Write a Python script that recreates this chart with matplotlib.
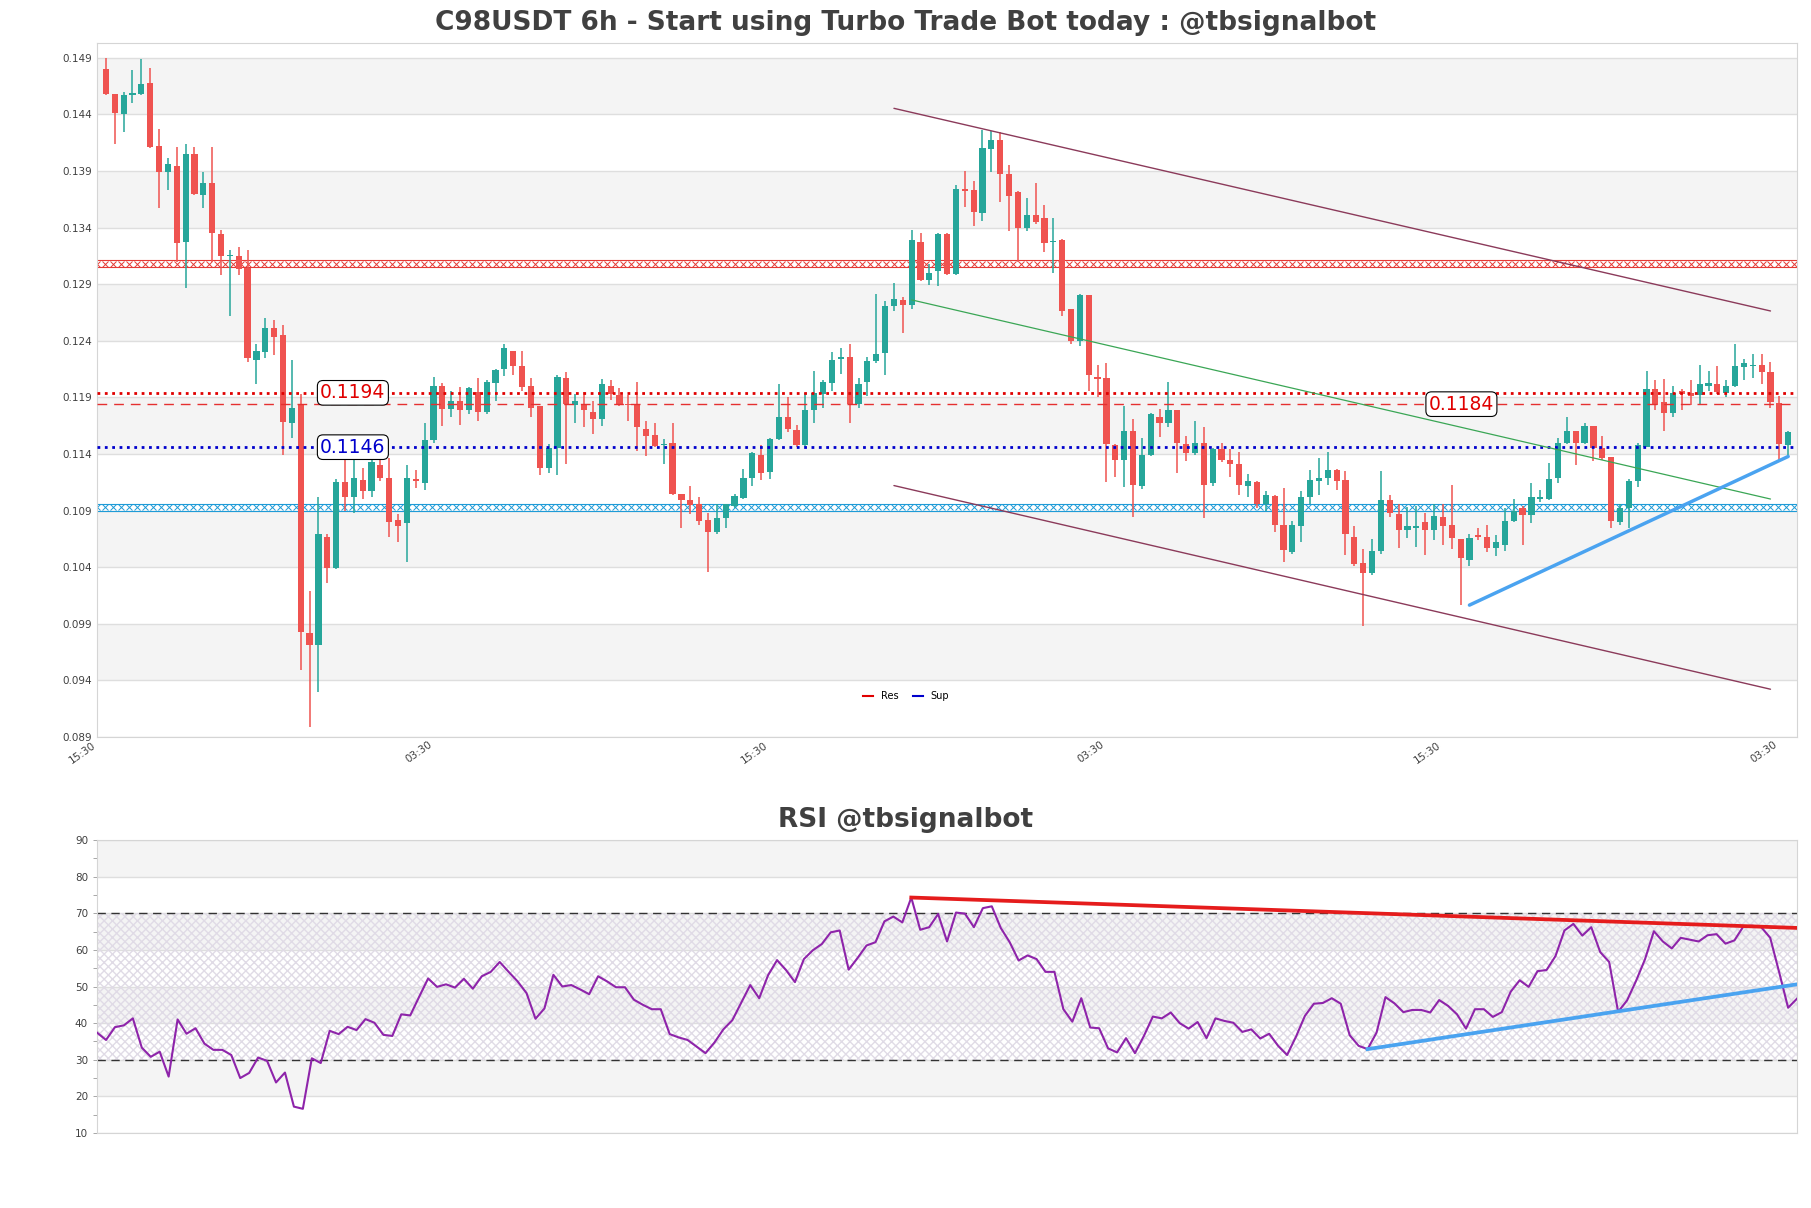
import numpy as np
import matplotlib.pyplot as plt
from matplotlib.lines import Line2D

# 6h candles, oldest first
opens = [0.1480, 0.1458, 0.1440, 0.1457, 0.1458, 0.1468, 0.1412, 0.1389, 0.1394, 0.1327,
         0.1405, 0.1369, 0.1379, 0.1334, 0.1315, 0.1315, 0.1304, 0.1223, 0.1230, 0.1251,
         0.1245, 0.1167, 0.1183, 0.0982, 0.0971, 0.1067, 0.1039, 0.1115, 0.1102, 0.1117,
         0.1107, 0.1130, 0.1119, 0.1082, 0.1079, 0.1118, 0.1114, 0.1152, 0.1200, 0.1180,
         0.1187, 0.1179, 0.1195, 0.1177, 0.1203, 0.1215, 0.1231, 0.1218, 0.1200, 0.1182,
         0.1128, 0.1145, 0.1207, 0.1183, 0.1184, 0.1177, 0.1171, 0.1200, 0.1192, 0.1184,
         0.1183, 0.1162, 0.1157, 0.1148, 0.1150, 0.1105, 0.1099, 0.1096, 0.1082, 0.1071,
         0.1083, 0.1094, 0.1101, 0.1119, 0.1139, 0.1124, 0.1153, 0.1173, 0.1161, 0.1148,
         0.1179, 0.1193, 0.1203, 0.1224, 0.1226, 0.1184, 0.1204, 0.1222, 0.1229, 0.1271,
         0.1276, 0.1272, 0.1327, 0.1294, 0.1302, 0.1334, 0.1299, 0.1374, 0.1373, 0.1353,
         0.1409, 0.1417, 0.1387, 0.1371, 0.1340, 0.1351, 0.1348, 0.1327, 0.1329, 0.1268,
         0.1240, 0.1280, 0.1208, 0.1207, 0.1148, 0.1135, 0.1160, 0.1112, 0.1139, 0.1173,
         0.1167, 0.1179, 0.1149, 0.1141, 0.1150, 0.1114, 0.1144, 0.1135, 0.1131, 0.1112,
         0.1115, 0.1096, 0.1103, 0.1077, 0.1053, 0.1076, 0.1102, 0.1116, 0.1119, 0.1126,
         0.1117, 0.1067, 0.1044, 0.1035, 0.1054, 0.1099, 0.1087, 0.1073, 0.1075, 0.1080,
         0.1073, 0.1084, 0.1077, 0.1065, 0.1046, 0.1068, 0.1067, 0.1057, 0.1060, 0.1081,
         0.1092, 0.1086, 0.1100, 0.1100, 0.1119, 0.1150, 0.1160, 0.1150, 0.1165, 0.1145,
         0.1137, 0.1080, 0.1092, 0.1116, 0.1146, 0.1197, 0.1186, 0.1176, 0.1196, 0.1194,
         0.1192, 0.1200, 0.1202, 0.1194, 0.1200, 0.1217, 0.1218, 0.1219, 0.1212, 0.1185,
         0.1148]
highs = [0.1490, 0.1458, 0.1460, 0.1479, 0.1489, 0.1481, 0.1427, 0.1401, 0.1411, 0.1414,
         0.1411, 0.1389, 0.1411, 0.1338, 0.1320, 0.1323, 0.1320, 0.1237, 0.1260, 0.1258,
         0.1254, 0.1223, 0.1193, 0.1019, 0.1102, 0.1069, 0.1118, 0.1138, 0.1138, 0.1128,
         0.1138, 0.1138, 0.1136, 0.1087, 0.1130, 0.1126, 0.1167, 0.1208, 0.1203, 0.1196,
         0.1199, 0.1199, 0.1207, 0.1205, 0.1215, 0.1237, 0.1231, 0.1231, 0.1207, 0.1182,
         0.1149, 0.1210, 0.1212, 0.1193, 0.1195, 0.1187, 0.1206, 0.1205, 0.1198, 0.1192,
         0.1204, 0.1169, 0.1167, 0.1153, 0.1167, 0.1105, 0.1112, 0.1102, 0.1088, 0.1096,
         0.1096, 0.1105, 0.1127, 0.1142, 0.1148, 0.1154, 0.1202, 0.1190, 0.1166, 0.1194,
         0.1213, 0.1205, 0.1230, 0.1234, 0.1237, 0.1207, 0.1226, 0.1281, 0.1275, 0.1291,
         0.1279, 0.1338, 0.1335, 0.1308, 0.1335, 0.1335, 0.1378, 0.1390, 0.1381, 0.1426,
         0.1425, 0.1424, 0.1395, 0.1372, 0.1366, 0.1379, 0.1360, 0.1348, 0.1330, 0.1268,
         0.1281, 0.1280, 0.1219, 0.1220, 0.1149, 0.1182, 0.1171, 0.1154, 0.1176, 0.1180,
         0.1204, 0.1179, 0.1156, 0.1169, 0.1164, 0.1145, 0.1150, 0.1144, 0.1142, 0.1122,
         0.1116, 0.1107, 0.1104, 0.1110, 0.1081, 0.1107, 0.1126, 0.1136, 0.1142, 0.1127,
         0.1125, 0.1076, 0.1056, 0.1065, 0.1125, 0.1104, 0.1096, 0.1093, 0.1094, 0.1088,
         0.1096, 0.1096, 0.1113, 0.1065, 0.1069, 0.1075, 0.1077, 0.1068, 0.1092, 0.1100,
         0.1094, 0.1114, 0.1108, 0.1132, 0.1154, 0.1173, 0.1160, 0.1167, 0.1165, 0.1156,
         0.1137, 0.1096, 0.1118, 0.1150, 0.1213, 0.1205, 0.1206, 0.1200, 0.1197, 0.1205,
         0.1219, 0.1213, 0.1218, 0.1205, 0.1237, 0.1224, 0.1228, 0.1228, 0.1221, 0.1191,
         0.1160]
lows = [0.1457, 0.1414, 0.1424, 0.1450, 0.1457, 0.1410, 0.1357, 0.1373, 0.1310, 0.1287,
        0.1369, 0.1357, 0.1310, 0.1298, 0.1262, 0.1298, 0.1221, 0.1202, 0.1225, 0.1227,
        0.1139, 0.1154, 0.0949, 0.0899, 0.0930, 0.1026, 0.1038, 0.1090, 0.1088, 0.1100,
        0.1102, 0.1116, 0.1067, 0.1062, 0.1045, 0.1110, 0.1108, 0.1150, 0.1165, 0.1173,
        0.1166, 0.1175, 0.1169, 0.1175, 0.1187, 0.1209, 0.1210, 0.1196, 0.1173, 0.1121,
        0.1123, 0.1121, 0.1131, 0.1167, 0.1164, 0.1158, 0.1165, 0.1188, 0.1182, 0.1169,
        0.1143, 0.1138, 0.1146, 0.1131, 0.1104, 0.1075, 0.1087, 0.1077, 0.1036, 0.1069,
        0.1075, 0.1092, 0.1100, 0.1112, 0.1117, 0.1118, 0.1152, 0.1159, 0.1146, 0.1146,
        0.1167, 0.1181, 0.1196, 0.1211, 0.1167, 0.1181, 0.1191, 0.1220, 0.1210, 0.1266,
        0.1247, 0.1268, 0.1293, 0.1289, 0.1288, 0.1298, 0.1298, 0.1358, 0.1341, 0.1346,
        0.1389, 0.1363, 0.1337, 0.1310, 0.1337, 0.1343, 0.1318, 0.1300, 0.1262, 0.1237,
        0.1235, 0.1196, 0.1190, 0.1115, 0.1120, 0.1111, 0.1084, 0.1109, 0.1138, 0.1155,
        0.1164, 0.1123, 0.1134, 0.1139, 0.1083, 0.1112, 0.1133, 0.1120, 0.1104, 0.1102,
        0.1092, 0.1090, 0.1071, 0.1045, 0.1052, 0.1062, 0.1096, 0.1104, 0.1113, 0.1108,
        0.1051, 0.1041, 0.0988, 0.1033, 0.1052, 0.1084, 0.1057, 0.1066, 0.1058, 0.1051,
        0.1064, 0.1060, 0.1056, 0.1007, 0.1041, 0.1064, 0.1053, 0.1050, 0.1054, 0.1080,
        0.1060, 0.1079, 0.1098, 0.1099, 0.1114, 0.1149, 0.1130, 0.1149, 0.1134, 0.1135,
        0.1075, 0.1077, 0.1075, 0.1111, 0.1146, 0.1179, 0.1160, 0.1173, 0.1179, 0.1183,
        0.1183, 0.1196, 0.1193, 0.1190, 0.1199, 0.1205, 0.1207, 0.1202, 0.1181, 0.1133,
        0.1138]
closes = [0.1458, 0.1441, 0.1457, 0.1459, 0.1467, 0.1411, 0.1389, 0.1396, 0.1326, 0.1405,
          0.1370, 0.1379, 0.1335, 0.1315, 0.1316, 0.1303, 0.1225, 0.1231, 0.1251, 0.1243,
          0.1168, 0.1181, 0.0983, 0.0971, 0.1069, 0.1039, 0.1115, 0.1102, 0.1119, 0.1107,
          0.1133, 0.1119, 0.1080, 0.1076, 0.1119, 0.1116, 0.1152, 0.1200, 0.1180, 0.1187,
          0.1179, 0.1198, 0.1177, 0.1204, 0.1214, 0.1234, 0.1218, 0.1199, 0.1181, 0.1128,
          0.1145, 0.1208, 0.1184, 0.1187, 0.1179, 0.1171, 0.1202, 0.1193, 0.1183, 0.1183,
          0.1164, 0.1156, 0.1147, 0.1149, 0.1105, 0.1099, 0.1095, 0.1081, 0.1071, 0.1083,
          0.1096, 0.1103, 0.1119, 0.1141, 0.1123, 0.1153, 0.1173, 0.1162, 0.1148, 0.1179,
          0.1194, 0.1204, 0.1223, 0.1226, 0.1184, 0.1202, 0.1222, 0.1228, 0.1271, 0.1277,
          0.1272, 0.1329, 0.1294, 0.1300, 0.1334, 0.1299, 0.1374, 0.1372, 0.1354, 0.1410,
          0.1417, 0.1387, 0.1368, 0.1340, 0.1351, 0.1345, 0.1326, 0.1328, 0.1266, 0.1240,
          0.1280, 0.1210, 0.1206, 0.1149, 0.1135, 0.1160, 0.1113, 0.1139, 0.1175, 0.1167,
          0.1179, 0.1150, 0.1141, 0.1150, 0.1113, 0.1144, 0.1135, 0.1131, 0.1113, 0.1116,
          0.1096, 0.1104, 0.1077, 0.1055, 0.1077, 0.1102, 0.1117, 0.1119, 0.1126, 0.1116,
          0.1069, 0.1043, 0.1035, 0.1054, 0.1099, 0.1088, 0.1073, 0.1076, 0.1076, 0.1073,
          0.1085, 0.1076, 0.1066, 0.1048, 0.1066, 0.1067, 0.1057, 0.1062, 0.1081, 0.1090,
          0.1086, 0.1102, 0.1102, 0.1118, 0.1150, 0.1160, 0.1150, 0.1165, 0.1145, 0.1136,
          0.1081, 0.1092, 0.1116, 0.1148, 0.1197, 0.1183, 0.1176, 0.1194, 0.1193, 0.1191,
          0.1202, 0.1203, 0.1195, 0.1200, 0.1218, 0.1220, 0.1218, 0.1212, 0.1186, 0.1149,
          0.1159]

rsi = [37.4, 35.4, 38.9, 39.4, 41.3, 33.3, 30.8, 32.2, 25.4, 41.0,
       37.1, 38.6, 34.4, 32.7, 32.7, 31.3, 25.0, 26.4, 30.6, 29.7,
       23.8, 26.5, 17.2, 16.6, 30.4, 29.1, 37.9, 37.0, 39.0, 38.1,
       41.1, 40.1, 36.8, 36.5, 42.4, 42.1, 47.2, 52.2, 49.9, 50.6,
       49.7, 52.1, 49.4, 52.8, 54.0, 56.7, 54.0, 51.4, 48.2, 41.2,
       44.0, 53.2, 50.0, 50.4, 49.2, 47.9, 52.8, 51.4, 49.8, 49.8,
       46.4, 45.0, 43.8, 43.8, 37.0, 36.1, 35.4, 33.6, 31.8, 34.7,
       38.3, 40.8, 45.6, 50.4, 46.8, 53.1, 57.2, 54.5, 51.2, 57.5,
       59.9, 61.6, 64.8, 65.3, 54.6, 57.8, 61.2, 62.1, 67.8, 69.1,
       67.5, 74.3, 65.5, 66.2, 69.8, 62.3, 70.2, 69.9, 66.2, 71.4,
       71.9, 66.0, 62.1, 57.1, 58.5, 57.5, 54.0, 54.0, 43.8, 40.4,
       46.8, 38.8, 38.6, 33.1, 32.0, 35.9, 31.8, 36.5, 41.8, 41.3,
       42.9, 40.0, 38.5, 40.3, 35.9, 41.3, 40.6, 40.1, 37.6, 38.3,
       35.8, 37.1, 33.8, 31.3, 36.3, 42.0, 45.3, 45.5, 46.8, 45.3,
       36.7, 33.8, 32.9, 37.4, 47.1, 45.4, 43.0, 43.6, 43.6, 42.9,
       46.3, 44.7, 42.4, 38.5, 43.8, 43.8, 41.7, 43.0, 48.6, 51.7,
       49.9, 54.2, 54.5, 58.3, 65.3, 67.1, 63.9, 66.2, 59.4, 56.7,
       43.1, 46.2, 51.5, 57.4, 65.1, 62.3, 60.4, 63.3, 62.8, 62.3,
       64.0, 64.3, 61.7, 62.6, 66.4, 66.6, 66.2, 63.3, 53.9, 44.2,
       46.7]

tick_pos = [-1, 37, 75, 113, 151, 189]
tick_labels = ["15:30", "03:30", "15:30", "03:30", "15:30", "03:30"]

res_levels = [0.1194, 0.1184]
sup_level = 0.1146
res_zone = (0.1305, 0.1311)
sup_zone = (0.1090, 0.1096)

# trend lines as (index, value) pairs
chan_top = [(89, 0.14453), (188, 0.12663)]
chan_bot = [(89, 0.11121), (188, 0.09322)]
green_line = [(91, 0.12761), (188, 0.11002)]
sup_line = [(154, 0.10065), (190, 0.11378)]
rsi_res_line = [(91, 74.3), (190, 66.0)]
rsi_sup_line = [(142, 32.9), (190, 50.6)]

UP = '#26a69a'
DOWN = '#ef5350'
TXT = '#404040'

fig = plt.figure(figsize=(18.11, 12.08), dpi=100)
ax = fig.add_axes([0.0536, 0.3899, 0.9387, 0.5745])
ax2 = fig.add_axes([0.0536, 0.0621, 0.9387, 0.2425])

n = len(opens)
x = np.arange(n)
o = np.array(opens); c = np.array(closes); h = np.array(highs); l = np.array(lows)
col = np.where(c >= o, UP, DOWN)

# background bands
for k in range(6):
    lo = 0.094 + 0.010 * k
    ax.axhspan(lo, lo + 0.005, color='#f4f4f4', zorder=0, lw=0)
ax.set_ylim(0.089, 0.1503)
ax.set_xlim(-1, 191)
ax.set_yticks(np.arange(0.089, 0.1495, 0.005))
ax.yaxis.set_major_formatter(plt.FuncFormatter(lambda v, p: f"{v:.3f}"))
ax.grid(axis='y', color='#dedede', lw=1, zorder=0)
ax.set_axisbelow(True)

ax.vlines(x, l, h, colors=col, lw=1.1, zorder=3)
body_lo = np.minimum(o, c)
body_h = np.maximum(np.abs(c - o), 0.00006)
ax.bar(x, body_h, bottom=body_lo, width=0.7, color=col, zorder=4, lw=0)

# zones drawn as a thin band of crosses
xs = np.arange(-1, 191, 0.9)
for (z0, z1), zc in [(res_zone, '#e53935'), (sup_zone, '#1e9bd7')]:
    ax.axhline(z0, color=zc, lw=0.8, zorder=2)
    ax.axhline(z1, color=zc, lw=0.8, zorder=2)
    ax.plot(xs, np.full(len(xs), (z0 + z1) / 2), ls='none', marker='x', ms=4.8, mew=0.7,
            color=zc, zorder=2)

# levels
ax.axhline(res_levels[0], color='#e00000', ls=':', lw=2, zorder=5)
ax.axhline(res_levels[1], color='#e53030', ls=(0, (7, 5)), lw=1, zorder=5)
ax.axhline(sup_level, color='#0000cc', ls=':', lw=2, zorder=5)

box = dict(boxstyle='round,pad=0.15,rounding_size=0.3', fc='white', ec='black', lw=0.8)
ax.text(24.2, res_levels[0], f"{res_levels[0]:.4f}", color='#e00000', fontsize=13.5, va='center', bbox=box, zorder=6)
ax.text(24.2, sup_level, f"{sup_level:.4f}", color='#0000cc', fontsize=13.5, va='center', bbox=box, zorder=6)
ax.text(149.4, res_levels[1], f"{res_levels[1]:.4f}", color='#e00000', fontsize=13.5, va='center', bbox=box, zorder=6)

# trend lines
for ln, cl, w in [(chan_top, '#8b3a5a', 1), (chan_bot, '#8b3a5a', 1), (green_line, '#3aa655', 0.9), (sup_line, '#4aa3f0', 2.5)]:
    ax.plot([ln[0][0], ln[1][0]], [ln[0][1], ln[1][1]], color=cl, lw=w, zorder=6, solid_capstyle='round')

ax.set_xticks(tick_pos)
ax.set_xticklabels(tick_labels, rotation=35, ha='right', fontsize=7.5, color=TXT)
ax.tick_params(axis='y', labelsize=7.5, colors=TXT, length=0)
ax.tick_params(axis='x', length=0, pad=2)
for s in ax.spines.values():
    s.set_color('#d5d5d5')

handles = [Line2D([], [], color='#e00000', lw=1.5), Line2D([], [], color='#0000cc', lw=1.5)]
ax.legend(handles, ['Res', 'Sup'], loc='center', bbox_to_anchor=(0.476, 0.059), ncol=2,
          frameon=False, fontsize=7, handlelength=1.0, columnspacing=1.5)

fig.text(0.5, 0.981, "C98USDT 6h - Start using Turbo Trade Bot today : @tbsignalbot",
         ha='center', va='center', fontsize=19, fontweight='bold', color=TXT)

# RSI panel
for lo in [20, 40, 60, 80]:
    ax2.axhspan(lo, lo + 10, color='#f4f4f4', zorder=0, lw=0)
ax2.axhspan(30, 70, facecolor='none', edgecolor='#e0dbe6', hatch='xxxx', lw=0, zorder=1)
ax2.axhline(70, color='#333333', ls=(0, (6, 4)), lw=1, zorder=2)
ax2.axhline(30, color='#333333', ls=(0, (6, 4)), lw=1, zorder=2)
ax2.plot(np.arange(len(rsi)), rsi, color='#8e24aa', lw=1.5, zorder=4)
ax2.plot([rsi_res_line[0][0], rsi_res_line[1][0]], [rsi_res_line[0][1], rsi_res_line[1][1]], color='#e51c1c', lw=2.7, zorder=5)
ax2.plot([rsi_sup_line[0][0], rsi_sup_line[1][0]], [rsi_sup_line[0][1], rsi_sup_line[1][1]], color='#4aa3f0', lw=2.7, zorder=5)
ax2.set_xlim(0, len(rsi) - 1)
ax2.set_ylim(10, 90)
ax2.set_yticks(range(10, 91, 10))
ax2.set_yticks(range(15, 90, 10), minor=True)
ax2.grid(axis='y', color='#dedede', lw=1, zorder=0)
ax2.set_axisbelow(True)
ax2.set_xticks([])
ax2.tick_params(axis='y', which='both', labelsize=7.5, colors=TXT, length=3, width=0.6)
ax2.tick_params(axis='y', which='both', color='#999999')
for s in ax2.spines.values():
    s.set_color('#d5d5d5')
fig.text(0.5, 0.321, "RSI @tbsignalbot", ha='center', va='center', fontsize=19,
         fontweight='bold', color=TXT)

fig.savefig('out.png', dpi=100, facecolor='white')
